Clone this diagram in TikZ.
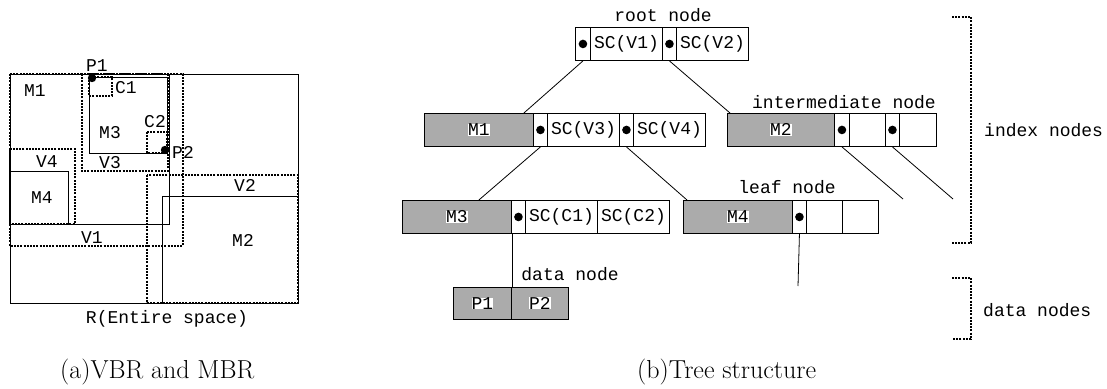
\documentclass[tikz,border=0pt]{standalone}
\usepackage{fontspec}
\newfontfamily\monof{Liberation Mono}
\begin{document}
\begin{tikzpicture}[x=1pt,y=-1pt,
  mono/.style={font=\monof\fontsize{18}{20}\selectfont, inner sep=0pt},
  cellbox/.style={draw, line width=0.9pt, inner sep=0pt, anchor=north west, minimum height=33pt, mono},
  shadedcell/.style={cellbox, fill=black!33},
  ptr/.style={cellbox, path picture={\fill[black] (path picture bounding box.center) circle (4.3pt);}},
  whitelab/.style={fill=white, inner sep=1pt},
  vbr/.style={line width=2.4pt, dash pattern=on 2pt off 1.2pt},
  mbr/.style={line width=1pt},
  conn/.style={line width=0.8pt},
  caption/.style={font=\fontsize{26}{30}\selectfont, inner sep=0pt, anchor=base west}
]
\useasboundingbox (0,0) rectangle (1107,388);

% ---------- (a) VBR and MBR ----------
\draw[mbr] (10,74) rectangle (298,303);     % R
\draw[mbr] (10,74) rectangle (169,224);     % M1
\draw[mbr] (89,77) rectangle (167,153);     % M3
\draw[mbr] (10,171) rectangle (68,224);     % M4
\draw[mbr] (162,196) rectangle (298,303);   % M2
\draw[vbr] (10,74) rectangle (183,246);     % V1
\draw[vbr] (147,175) rectangle (298,303);   % V2
\draw[vbr] (82,74) rectangle (168,171);     % V3
\draw[vbr] (10,149) rectangle (75,224);     % V4
\draw[vbr] (89,77) rectangle (112,96);      % C1
\draw[vbr] (147,132) rectangle (167,153);   % C2
\fill (92,78) circle (4.2pt);
\fill (165,150) circle (4.2pt);

\node[mono] (tP1) at (97,66) {P1};
\node[mono] (tP2) at (183,152) {P2};
\node[mono] (tM1) at (35,91) {M1};
\node[mono] (tC1) at (126,88) {C1};
\node[mono] (tM3) at (110,133) {M3};
\node[mono] (tC2) at (155,122) {C2};
\node[mono] (tV4) at (47,162) {V4};
\node[mono] (tV3) at (110,163) {V3};
\node[mono] (tM4) at (42,198) {M4};
\node[mono] (tV2) at (245,185) {V2};
\node[mono] (tV1) at (92,238) {V1};
\node[mono] (tM2) at (243,240) {M2};
\node[mono] (tR) at (167,319) {R(Entire space)};

\node[caption] (capa) at (60,378) {(a)VBR and MBR};

% ---------- (b) Tree structure ----------
% root
\node[ptr, minimum width=15pt] (r1) at (575,27) {};
\node[cellbox, minimum width=72pt] (r2) at (590,27) {SC(V1)};
\node[ptr, minimum width=14pt] (r3) at (662,27) {};
\node[cellbox, minimum width=72pt] (r4) at (676,27) {SC(V2)};
\node[mono] (lroot) at (663,15) {root node};

% M1 node
\node[shadedcell, minimum width=109pt, label={[whitelab, mono]center:M1}] (m1a) at (424,113) {};
\node[ptr, minimum width=14pt] (m1b) at (533,113) {};
\node[cellbox, minimum width=72pt] (m1c) at (547,113) {SC(V3)};
\node[ptr, minimum width=14pt] (m1d) at (619,113) {};
\node[cellbox, minimum width=72pt] (m1e) at (633,113) {SC(V4)};

% M2 node
\node[shadedcell, minimum width=107pt, label={[whitelab, mono]center:M2}] (m2a) at (727,113) {};
\node[ptr, minimum width=15pt] (m2b) at (834,113) {};
\node[cellbox, minimum width=36pt] (m2c) at (849,113) {};
\node[ptr, minimum width=14pt] (m2d) at (885,113) {};
\node[cellbox, minimum width=37pt] (m2e) at (899,113) {};
\node[mono] (linter) at (844,102) {intermediate node};

% M3 node
\node[shadedcell, minimum width=109pt, label={[whitelab, mono]center:M3}] (m3a) at (402,200) {};
\node[ptr, minimum width=14pt] (m3b) at (511,200) {};
\node[cellbox, minimum width=72pt] (m3c) at (525,200) {SC(C1)};
\node[cellbox, minimum width=72pt] (m3d) at (597,200) {SC(C2)};

% M4 node
\node[shadedcell, minimum width=109pt, label={[whitelab, mono]center:M4}] (m4a) at (683,200) {};
\node[ptr, minimum width=14pt] (m4b) at (792,200) {};
\node[cellbox, minimum width=36pt] (m4c) at (806,200) {};
\node[cellbox, minimum width=36pt] (m4d) at (842,200) {};
\node[mono] (lleaf) at (787,187) {leaf node};

% data node
\node[shadedcell, minimum width=58pt, minimum height=32pt, label={[whitelab, mono]center:P1}] (d1) at (453,287) {};
\node[shadedcell, minimum width=57pt, minimum height=32pt, label={[whitelab, mono]center:P2}] (d2) at (511,287) {};
\node[mono] (ldata) at (570,274) {data node};

% connectors
\coordinate (e1) at (903,199);
\coordinate (e2) at (953,199);
\coordinate (e3) at (798,286);
\draw[conn] (r1.south) -- ([xshift=-10pt]m1a.north east);
\draw[conn] (r3.south) -- ([xshift=3pt]m2a.north west);
\draw[conn] (m1b.south) -- ([xshift=-33pt]m3a.north east);
\draw[conn] (m1d.south) -- ([xshift=4pt]m4a.north west);
\draw[conn] (m2b.south) -- (e1);
\draw[conn] (m2d.south) -- (e2);
\draw[conn] (m4b.south) -- (e3);
\draw[conn] (m3a.south east) -- (d1.north east);

% brackets
\draw[vbr, line width=2pt] (952,17) -- (971,17) -- (971,243) -- (952,243);
\draw[vbr, line width=2pt] (952,278) -- (971,278) -- (971,339) -- (952,339);
\node[mono, anchor=west] (lindex) at (984,130) {index nodes};
\node[mono, anchor=west] (ldatas) at (983,310) {data nodes};

\node[caption] (capb) at (637,378) {(b)Tree structure};
\end{tikzpicture}
\end{document}
